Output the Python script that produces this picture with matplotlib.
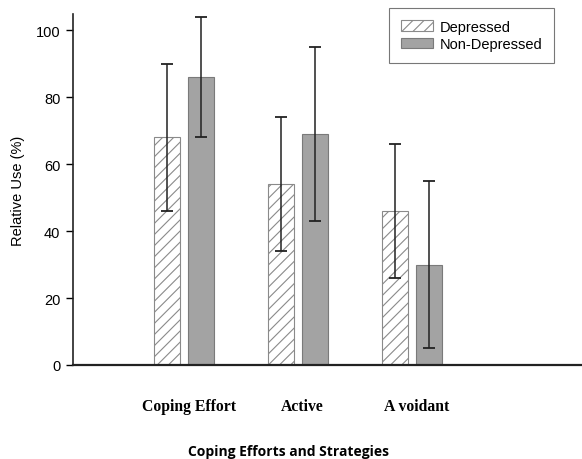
import matplotlib
matplotlib.use("Agg")
import matplotlib.pyplot as plt
import numpy as np

categories = ["Coping Effort", "Active", "A voidant"]
depressed = [68, 54, 46]
depressed_err = [22, 20, 20]
nondepressed = [86, 69, 30]
nondepressed_err = [18, 26, 25]

plt.rcParams['hatch.color'] = '#9a9a9a'
plt.rcParams['hatch.linewidth'] = 0.8

fig = plt.figure(figsize=(5.82, 4.60), dpi=100)
ax = fig.add_axes([73/582, 1-366/460, 1-73/582, (366-15)/460])

x = np.arange(len(categories))
w = 0.228
off = 0.149
ekw = dict(ecolor='#222222', elinewidth=1.1, capsize=4.5, capthick=1.3)
ax.bar(x - off, depressed, w, color='white', edgecolor='#8a8a8a', hatch='///',
       linewidth=0.8, label='Depressed', yerr=depressed_err, error_kw=ekw)
ax.bar(x + off, nondepressed, w, color='#a3a3a3', edgecolor='#7a7a7a',
       linewidth=0.8, label='Non-Depressed', yerr=nondepressed_err, error_kw=ekw)

ax.set_xlim(-0.974, 3.49)
ax.set_ylim(0, 104.8)
ax.set_yticks([0, 20, 40, 60, 80, 100])
ax.tick_params(axis='y', direction='out', length=5, width=1, labelsize=10.5, pad=4)
ax.tick_params(axis='x', length=0)
ax.set_xticks([])
for lbl in ax.get_yticklabels():
    lbl.set_family('Liberation Sans')

ax.spines['top'].set_visible(False)
ax.spines['right'].set_visible(False)
ax.spines['left'].set_linewidth(1.2)
ax.spines['bottom'].set_linewidth(1.6)
ax.spines['left'].set_color('#222222')
ax.spines['bottom'].set_color('#222222')

for xi, c in zip(x, categories):
    ax.text(xi + 0.04, -0.118, c, transform=ax.get_xaxis_transform(), ha='center', va='center',
            family='Liberation Serif', fontweight='bold', fontsize=11.3)

ax.set_ylabel('Relative Use (%)', family='Liberation Sans', fontsize=10.5, labelpad=8)
fig.text(289/582, 1-452/460, 'Coping Efforts and Strategies', ha='center', va='center',
         family='Open Sans', fontweight='bold', fontsize=10)

leg = ax.legend(loc='upper left', bbox_to_anchor=((389-73)/509, 1 + (15-9)/351),
                frameon=True, fancybox=False, edgecolor='#555555',
                prop={'family': 'Liberation Sans', 'size': 10.5}, handlelength=2.2,
                handleheight=0.7, borderpad=0.8, labelspacing=0.25, handletextpad=0.5,
                borderaxespad=0)
leg.get_frame().set_linewidth(0.8)

fig.savefig('out.png', dpi=100)
